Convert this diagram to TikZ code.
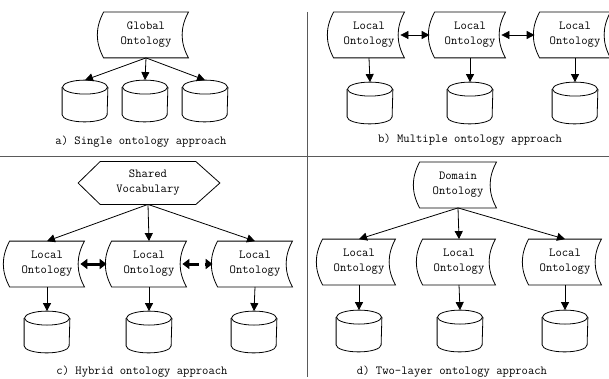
\documentclass[tikz,border=0pt]{standalone}
\usepackage{tikz}
\usetikzlibrary{arrows.meta, calc}
\definecolor{onto_rule}{RGB}{90, 90, 90}
\newcommand{\storeshape}[1]{\draw (#1.north west) to[bend right=28] (#1.south west)
  -- (#1.south east) to[bend left=28] (#1.north east) -- cycle;}
\newcommand{\hexshape}[1]{\draw (#1.north west) -- (#1.north east) -- ([xshift=24pt]#1.east)
  -- (#1.south east) -- (#1.south west) -- ([xshift=-22pt]#1.west) -- cycle;}
\newcommand{\dbshape}[1]{\draw ([yshift=-7pt]#1.north) ellipse[x radius=22.5pt, y radius=7pt];
  \draw ([yshift=-7pt]#1.north west) -- ([yshift=7pt]#1.south west)
    arc[start angle=180, end angle=360, x radius=22.5pt, y radius=7pt]
    -- ([yshift=-7pt]#1.north east);}

\begin{document}
\begin{tikzpicture}[x=1pt, y=-1pt, line width=0.8pt,
            font=\ttfamily\fontsize{12.3}{15}\selectfont,
            onto/.style={align=center, minimum width=72pt, minimum height=45pt, inner sep=0pt},
            dbase/.style={minimum width=45pt, minimum height=41pt, inner sep=0pt},
            tip/.style={-{Triangle[length=8pt, width=8pt]}},
            twotip/.style={{Triangle[length=8pt, width=8pt]}-{Triangle[length=8pt, width=8pt]}},
            fattip/.style={line width=3pt, {Triangle[length=7pt, width=10pt]}-{Triangle[length=7pt, width=10pt]}},
            rule/.style={draw=onto_rule, line width=1pt}]
  \useasboundingbox (0,0) rectangle (609,379);
  \draw[rule] (0,157) -- (609,157);
  \draw[rule] (307,12) -- (307,377);

  % a) single
  \node[onto, minimum width=84pt] (glob) at (146,35) {Global\\Ontology};
  \storeshape{glob}
  \node[dbase] (ca1) at (85,101) {};
  \node[dbase] (ca2) at (145,101) {};
  \node[dbase] (ca3) at (205,101) {};
  \foreach \c in {ca1, ca2, ca3} {
    \dbshape{\c}
    \draw[tip] (glob.south) -- (\c.north);
  }
  \node (la) at (141,142) {a) Single ontology approach};

  % b) multiple
  \node[onto, minimum width=70pt] (b1) at (369,35) {Local\\Ontology};
  \node[onto, minimum width=70pt] (b2) at (470,35) {Local\\Ontology};
  \node[onto, minimum width=70pt] (b3) at (575,35) {Local\\Ontology};
  \node[dbase] (cb1) at (370,103) {};
  \node[dbase] (cb2) at (470,103) {};
  \node[dbase] (cb3) at (575,103) {};
  \foreach \n/\c in {b1/cb1, b2/cb2, b3/cb3} {
    \storeshape{\n}
    \dbshape{\c}
    \draw[tip] (\n.south) -- (\c.north);
  }
  \draw[twotip] ([xshift=-4pt]b1.east) -- ([xshift=-5pt]b2.west);
  \draw[twotip] ([xshift=-4pt]b2.east) -- ([xshift=-5pt]b3.west);
  \node (lb) at (470,140) {b) Multiple ontology approach};

  % c) hybrid
  \node[onto, minimum width=95pt, minimum height=42pt] (voc) at (148,183) {Shared\\Vocabulary};
  \hexshape{voc}
  \node[onto, minimum width=74pt] (c1) at (47,264) {Local\\Ontology};
  \node[onto, minimum width=74pt] (c2) at (149,264) {Local\\Ontology};
  \node[onto, minimum width=74pt] (c3) at (255,264) {Local\\Ontology};
  \node[dbase] (cc1) at (47,332) {};
  \node[dbase] (cc2) at (149,332) {};
  \node[dbase] (cc3) at (254,332) {};
  \foreach \n/\c in {c1/cc1, c2/cc2, c3/cc3} {
    \storeshape{\n}
    \dbshape{\c}
    \draw[tip] (voc.south) -- (\n.north);
    \draw[tip] (\n.south) -- (\c.north);
  }
  \draw[fattip] ([xshift=-4pt]c1.east) -- ([xshift=-5pt]c2.west);
  \draw[fattip, dash pattern=on 10pt off 6pt] ([xshift=-4pt]c2.east) -- ([xshift=-5pt]c3.west);
  \node (lc) at (142,372) {c) Hybrid ontology approach};

  % d) two-layer
  \node[onto, minimum width=76pt] (dom) at (458,185) {Domain\\Ontology};
  \storeshape{dom}
  \node[onto] (d1) at (359,262) {Local\\Ontology};
  \node[onto] (d2) at (459,262) {Local\\Ontology};
  \node[onto] (d3) at (565,262) {Local\\Ontology};
  \node[dbase] (cd1) at (359,331) {};
  \node[dbase] (cd2) at (460,331) {};
  \node[dbase] (cd3) at (565,331) {};
  \foreach \n/\c in {d1/cd1, d2/cd2, d3/cd3} {
    \storeshape{\n}
    \dbshape{\c}
    \draw[tip] (dom.south) -- (\n.north);
    \draw[tip] (\n.south) -- (\c.north);
  }
  \node (ld) at (452,372) {d) Two-layer ontology approach};
\end{tikzpicture}
\end{document}
